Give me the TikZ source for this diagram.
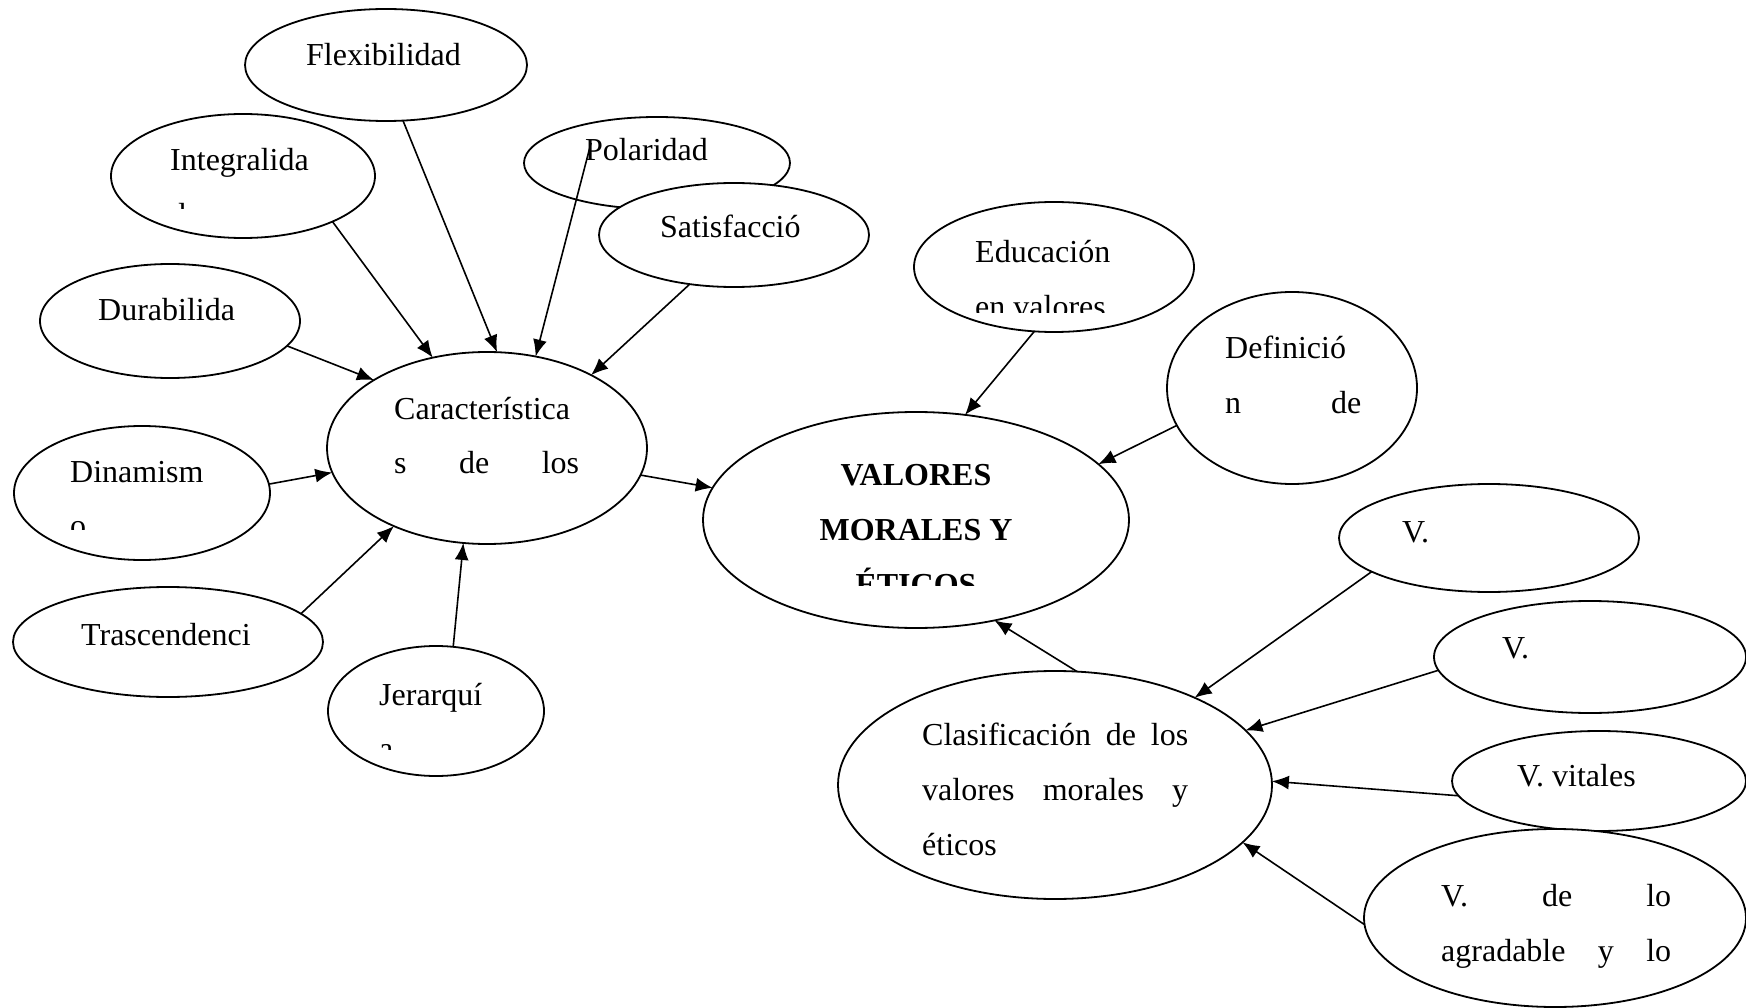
\documentclass[tikz,border=0pt]{standalone}
\usepackage{fontspec}
\setmainfont{Liberation Serif}
\usetikzlibrary{shapes.geometric,arrows.meta}
\newcommand{\jline}[2]{\makebox[#1][s]{#2}}
\tikzset{
  bubble/.style={ellipse, draw, fill=white, line width=1.8pt, inner sep=0pt, outer sep=0pt},
  txt/.style={anchor=base west, inner sep=0pt, font=\fontsize{32}{54.5}\selectfont},
  link/.style={->, line width=1.6pt},
}
\begin{document}
\begin{tikzpicture}[x=1pt, y=-1pt, >={Latex[length=17pt,width=14pt]}, line join=round]
\useasboundingbox (0,0) rectangle (1746,1008);
% elipses de las caracteristicas
\node[bubble, minimum width=282pt, minimum height=112pt] (flex) at (386,65) {};
\node[bubble, minimum width=264pt, minimum height=124pt] (integ) at (243,176) {};
\node[bubble, minimum width=266pt, minimum height=92pt] (pol) at (657,163) {};
\node[bubble, minimum width=270pt, minimum height=104pt] (satis) at (734,235) {};
\node[bubble, minimum width=260pt, minimum height=114pt] (durab) at (170,321) {};
\node[bubble, minimum width=320pt, minimum height=192pt] (char) at (487,448) {};
\node[bubble, minimum width=256pt, minimum height=134pt] (dinam) at (142,493) {};
\node[bubble, minimum width=310pt, minimum height=110pt] (trasc) at (168,642) {};
\node[bubble, minimum width=216pt, minimum height=130pt] (jerar) at (436,711) {};
% elipses centrales y clasificacion
\node[bubble, minimum width=280pt, minimum height=130pt] (educ) at (1054,267) {};
\node[bubble, minimum width=250pt, minimum height=192pt] (defin) at (1292,388) {};
\node[bubble, minimum width=426pt, minimum height=216pt] (val) at (916,520) {};
\node[bubble, minimum width=300pt, minimum height=108pt] (vtop) at (1489,538) {};
\node[bubble, minimum width=312pt, minimum height=112pt] (vdos) at (1590,657) {};
\node[bubble, minimum width=294pt, minimum height=100pt] (vvit) at (1599,781) {};
\node[bubble, minimum width=382pt, minimum height=178pt] (vagr) at (1555,918) {};
\node[bubble, minimum width=434pt, minimum height=228pt] (clas) at (1055,785) {};
% textos
\node[txt] (flext) at (306,66) {Flexibilidad};
\begin{scope}
  \clip (150,120) rectangle (330,209);
  \node[txt] (integt) at (170,171) {\parbox[t]{200pt}{Integralida\\d}};
\end{scope}
\node[txt] (polt) at (585,161) {Polaridad};
\node[txt] (satist) at (660,238) {Satisfacció};
\node[txt] (durabt) at (98,321) {Durabilida};
\node[txt] (chart) at (394,419) {\parbox[t]{185pt}{Característica\\\jline{185pt}{s de los}}};
\begin{scope}
  \clip (50,440) rectangle (260,529);
  \node[txt] (dinamt) at (70,482) {\parbox[t]{180pt}{Dinamism\\o}};
\end{scope}
\node[txt] (trasct) at (81,645) {Trascendenci};
\begin{scope}
  \clip (360,670) rectangle (520,749);
  \node[txt] (jerart) at (379,705) {\parbox[t]{140pt}{Jerarquí\\a}};
\end{scope}
\begin{scope}
  \clip (960,220) rectangle (1180,313);
  \node[txt] (educt) at (975,263) {\parbox[t]{180pt}{Educación\\en valores}};
\end{scope}
\node[txt] (defint) at (1225,359) {\parbox[t]{136pt}{Definició\\\jline{136pt}{n de}}};
\begin{scope}
  \clip (760,440) rectangle (1080,585);
  \node[txt, anchor=base, font=\fontsize{32}{55}\selectfont\bfseries] (valt) at (916,485)
    {\parbox[t]{300pt}{\centering VALORES\\MORALES Y\\ÉTICOS}};
\end{scope}
\node[txt] (vtopt) at (1402,542) {V.};
\node[txt] (vdost) at (1502,658) {V.};
\node[txt] (vvitt) at (1517,786) {V. vitales};
\node[txt, font=\fontsize{32}{55}\selectfont] (vagrt) at (1441,906) {\parbox[t]{230pt}{\jline{230pt}{V. de lo}\\\jline{230pt}{agradable y lo}}};
\node[txt, font=\fontsize{32}{55}\selectfont] (clast) at (922,745)
  {\parbox[t]{266pt}{\jline{266pt}{Clasificación de los}\\\jline{266pt}{valores morales y}\\éticos}};
% flechas
\coordinate (polP) at (591,143);
\draw[link] (flex.-73) -- (char.84);
\draw[link] (integ.-27) -- (char.121);
\draw[link] (polP) -- (char.62);
\draw[link] (satis.-132) -- (char.35);
\draw[link] (durab.-12) -- (char.149);
\draw[link] (dinam.4) -- (char.189);
\draw[link] (trasc.12) -- (char.220);
\draw[link] (jerar.75) -- (char.256);
\draw[link] (char.-10) -- (val.171);
\draw[link] (educ.-107) -- (val.65);
\draw[link] (defin.198) -- (val.17);
\draw[link] (clas.79) -- (val.-52);
\draw[link] (vtop.196) -- (clas.32);
\draw[link] (vdos.185) -- (clas.16);
\draw[link] (vvit.186) -- (clas.1);
\draw[link] (vagr.182) -- (clas.-17);
\end{tikzpicture}
\end{document}
